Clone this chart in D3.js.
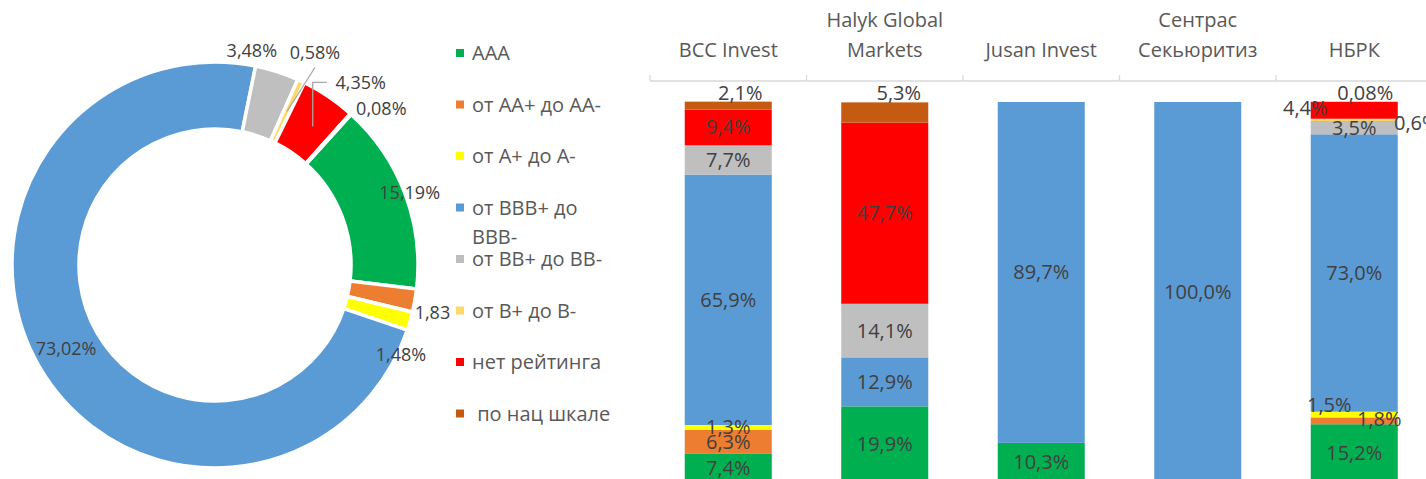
<!DOCTYPE html>
<html>
<head>
<meta charset="utf-8">
<script src="https://cdn.jsdelivr.net/npm/d3@7"></script>
<style>
  body { margin: 0; background: #fff; }
  text { font-family: "Open Sans", sans-serif; }
</style>
</head>
<body>
<svg width="1426" height="479"></svg>
<script>

// rating groups (legend + series)
var ratings = ["AAA", "от AA+ до AA-", "от A+ до A-", "от BBB+ до BBB-",
               "от BB+ до BB-", "от B+ до B-", "нет рейтинга", " по нац шкале"];
var colors = ["#00B050", "#ED7D31", "#FFFF00", "#5B9BD5",
              "#BFBFBF", "#FFD966", "#FF0000", "#C55A11"];

// doughnut: total structure, %
var totalShares = [15.19, 1.83, 1.48, 73.02, 3.48, 0.58, 4.35, 0.08];

// stacked bars by broker, %
var brokers = ["BCC Invest", "Halyk Global Markets", "Jusan Invest", "Сентрас Секьюритиз", "НБРК"];
var sAAA  = [7.4, 19.9, 10.3, 0, 15.2];
var sAA   = [6.3, 0, 0, 0, 1.8];
var sA    = [1.3, 0, 0, 0, 1.5];
var sBBB  = [65.9, 12.9, 89.7, 100.0, 73.0];
var sBB   = [7.7, 14.1, 0, 0, 3.5];
var sB    = [0, 0, 0, 0, 0.6];
var sNone = [9.4, 47.7, 0, 0, 4.4];
var sNat  = [2.1, 5.3, 0, 0, 0.08];
var series = [sAAA, sAA, sA, sBBB, sBB, sB, sNone, sNat];

var svg = d3.select("svg"),
    W = +svg.attr("width"),
    H = +svg.attr("height");

var txtDark = "#404040", txtGrey = "#595959";

function fmt(v, d) { return v.toFixed(d).replace(".", ",") + "%"; }

// crude word wrap using a throwaway text node
function wrapLines(str, maxW, size) {
  var probe = svg.append("text").style("font-size", size + "px");
  var words = str.trim().split(" "), lines = [], cur = "";
  words.forEach(function(w) {
    var t = cur ? cur + " " + w : w;
    probe.text(t);
    if (cur && probe.node().getComputedTextLength() > maxW) { lines.push(cur); cur = w; }
    else cur = t;
  });
  lines.push(cur);
  probe.remove();
  return lines;
}

// ---------------- doughnut ----------------
var cx = 215, cy = 265;
var start = 42.1 * Math.PI / 180;

var pie = d3.pie().sort(null).value(function(d) { return d; })
    .startAngle(start).endAngle(start + 2 * Math.PI);
var arc = d3.arc().innerRadius(136).outerRadius(203);

var donut = svg.append("g").attr("transform", "translate(" + cx + "," + cy + ")");
var arcs = pie(totalShares);

donut.selectAll("path")
    .data(arcs)
  .enter().append("path")
    .attr("d", arc)
    .attr("fill", function(d, i) { return colors[i]; })
    .attr("stroke", "#fff")
    .attr("stroke-width", 3.5)
    .attr("stroke-linejoin", "miter");

// label shifts from arc centroid (excel moved some by hand)
var pieShift = [[36, -13], [58, 18], [23, 43], [-2, -1], [-15, -53], [28, -59], [51, -42], [53, -30]];

// leader lines for the thin slices
var lead = donut.append("g").attr("fill", "none").attr("stroke", "#A6A6A6").attr("stroke-width", 1.3);
arcs.forEach(function(d, i) {
  var c = arc.centroid(d), lx = c[0] + pieShift[i][0], ly = c[1] + pieShift[i][1];
  if (i === 5) {
    lead.append("path").attr("d", "M" + c[0] + "," + c[1] + "L" + lx + "," + (ly + 15));
  } else if (i === 6) {
    lead.append("path").attr("d", "M" + (c[0] + 3) + "," + (c[1] + 2) + "V" + ly + "H" + (lx - 34));
  }
});

donut.selectAll("text.pl")
    .data(arcs)
  .enter().append("text")
    .attr("class", "pl")
    .attr("x", function(d, i) { return arc.centroid(d)[0] + pieShift[i][0]; })
    .attr("y", function(d, i) { return arc.centroid(d)[1] + pieShift[i][1]; })
    .attr("dy", "0.35em")
    .attr("text-anchor", "middle")
    .style("font-size", "18px")
    .attr("fill", txtDark)
    .text(function(d) { return fmt(d.data, 2); });

// ---------------- legend ----------------
var legend = svg.append("g");
legend.append("rect")      // legend box hides the tail of "1,83%"
    .attr("x", 451).attr("y", 28).attr("width", 190).attr("height", 410)
    .attr("fill", "#fff");

var item = legend.selectAll("g.li")
    .data(ratings)
  .enter().append("g")
    .attr("class", "li")
    .attr("transform", function(d, i) { return "translate(456," + (53 + i * 51.5) + ")"; });

item.append("rect")
    .attr("x", 0).attr("y", -4).attr("width", 8).attr("height", 8)
    .attr("fill", function(d, i) { return colors[i]; });

item.each(function(d) {
  var g = d3.select(this);
  var lines = d.charAt(0) === " " ? [" " + d.trim()] : wrapLines(d, 150, 20);
  lines.forEach(function(l, k) {
    g.append("text")
        .attr("x", 16).attr("y", k * 29)
        .attr("dy", "0.35em")
        .attr("xml:space", "preserve")
        .style("font-size", "20px")
        .attr("fill", txtGrey)
        .text(l);
  });
});

// ---------------- stacked bars ----------------
var x = d3.scaleBand().domain(brokers).range([650, 1432.5])
    .paddingInner(0.444).paddingOuter(0.222);
var y = d3.scaleLinear().domain([0, 100]).range([482, 102]);

var rows = brokers.map(function(b, j) {
  var r = { broker: b };
  ratings.forEach(function(k, i) { r[k] = series[i][j]; });
  return r;
});
var stacked = d3.stack().keys(ratings)(rows);

var bars = svg.append("g");
bars.selectAll("g")
    .data(stacked)
  .enter().append("g")
    .attr("fill", function(d, i) { return colors[i]; })
  .selectAll("rect")
    .data(function(d) { return d; })
  .enter().append("rect")
    .attr("x", function(d) { return x(d.data.broker); })
    .attr("width", x.bandwidth())
    .attr("y", function(d) { return y(d[1]); })
    .attr("height", function(d) { return y(d[0]) - y(d[1]); });

// axis on top with ticks between categories
var axisY = 81;
var ax = svg.append("g").attr("stroke", "#D9D9D9").attr("stroke-width", 1.3);
ax.append("line").attr("x1", 650).attr("x2", W).attr("y1", axisY).attr("y2", axisY);
d3.range(brokers.length + 1).forEach(function(i) {
  var tx = 650 + i * x.step();
  ax.append("line").attr("x1", tx).attr("x2", tx).attr("y1", axisY - 6).attr("y2", axisY);
});

brokers.forEach(function(b) {
  var lines = wrapLines(b, 150, 20);
  lines.forEach(function(l, k) {
    svg.append("text")
        .attr("x", x(b) + x.bandwidth() / 2)
        .attr("y", 50 - (lines.length - 1 - k) * 30)
        .attr("dy", "0.35em")
        .attr("text-anchor", "middle")
        .style("font-size", "20px")
        .attr("fill", txtGrey)
        .text(l);
  });
});

// hand-moved data labels: "broker index|series index" -> shift
var barShift = { "0|7": [12, -13], "1|7": [14, -19],
                 "4|1": [25, -2], "4|2": [-25, -10], "4|5": [62, 3], "4|6": [-49, -2], "4|7": [11, -9] };

var labels = svg.append("g")
    .attr("text-anchor", "middle")
    .style("font-size", "20px")
    .attr("fill", txtDark);

stacked.forEach(function(s, i) {
  s.forEach(function(d, j) {
    var v = series[i][j];
    if (!v) return;
    var sh = barShift[j + "|" + i] || [0, 0];
    labels.append("text")
        .attr("x", x(d.data.broker) + x.bandwidth() / 2 + sh[0])
        .attr("y", (y(d[0]) + y(d[1])) / 2 + sh[1])
        .attr("dy", "0.35em")
        .text(fmt(v, v < 0.1 ? 2 : 1));
  });
});

</script>
</body>
</html>
